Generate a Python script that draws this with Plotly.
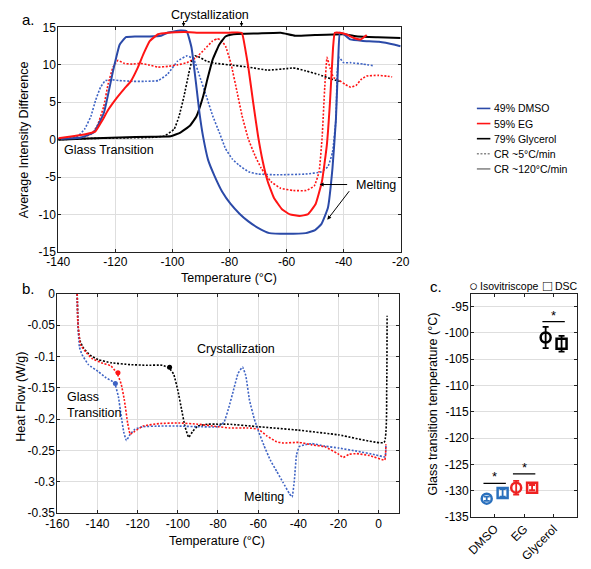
import plotly.graph_objects as go

# ---------------- Panel a: isovitriscope (Average Intensity Difference) ----------------
dmso_fast_T = [-140, -132, -127.5, -124, -120.8, -118.5, -116.3, -113, -108, -104, -101.7, -97.2, -95, -93.3,
               -91.6, -90.5, -89.3, -87.5, -85.3, -82.5, -79.6, -76.5, -73.5, -70, -66, -60, -53.3, -50, -47.8,
               -45.5, -43.9, -42.7, -41.9, -41.3, -40, -37.7, -33.2, -27.6, -22, -20]
dmso_fast_v = [0.1, 0.3, 1.0, 3.6, 9.2, 12.7, 13.7, 13.8, 13.8, 13.9, 14.3, 14.6, 14.5, 12.3,
               7.1, 3.5, 0.5, -2.7, -4.8, -7.0, -8.6, -9.9, -10.9, -11.8, -12.5, -12.6, -12.5, -12.1, -11.3,
               -9.1, -3.8, 2.7, 10.6, 14.3, 14.1, 13.4, 13.2, 13.1, 12.7, 12.5]

eg_fast_T = [-140, -134.3, -129.8, -127, -124.7, -122.5, -119.7, -116.9, -114.6, -112.3, -110.1, -107.9, -105,
             -101.6, -96, -90, -85, -80, -75.7, -74.6, -73.4, -71.7, -70, -68.3, -66.6, -64.4, -61.6, -58.8,
             -55.5, -52.6, -49.8, -47.6, -45.9, -44.8, -43.7, -43.1, -41.4, -39.2, -36.4, -34.1, -31.9]
eg_fast_v = [0.2, 0.5, 0.8, 1.1, 2.5, 4.0, 5.5, 6.8, 7.8, 9.5, 11.5, 13.2, 14.1,
             14.3, 14.4, 14.3, 14.3, 14.3, 14.3, 12.4, 9.7, 5.0, 0.5, -3.0, -5.6, -7.8, -9.3, -10.0,
             -10.2, -10.0, -8.6, -5.6, -0.8, 4.9, 12.3, 14.3, 14.3, 14.1, 13.6, 13.4, 14.0]

gly_fast_T = [-140, -129.8, -118.6, -107.3, -100.6, -97.2, -93.8, -91.6, -89.3, -87.6, -85.9, -83.6, -81.4,
              -78.6, -70, -62, -57, -50, -40, -35, -28, -20]
gly_fast_v = [0.0, 0.15, 0.3, 0.4, 0.45, 0.95, 1.9, 3.1, 5.7, 8.3, 10.7, 12.7, 13.8,
              14.1, 14.2, 14.3, 13.9, 14.0, 14.1, 13.8, 13.7, 13.6]

dmso_slow_T = [-140, -133.1, -130.8, -128.6, -126.9, -125.2, -123.5, -121.3, -118.5, -114, -109.5, -105, -101.6,
               -98.2, -94.9, -92.6, -90.4, -88.1, -85.9, -83.6, -81.4, -79, -76.7, -73.3, -70, -63.3, -53.3,
               -47.8, -45.5, -43.9, -42.7, -42.2, -41.6, -40, -37.7, -33.2, -29.8]
dmso_slow_v = [0.1, 0.5, 1.4, 3.1, 5.3, 7.0, 7.9, 8.0, 7.9, 7.8, 7.8, 7.9, 8.8,
               10.5, 11.2, 10.8, 8.4, 5.8, 3.2, 1.0, -1.2, -2.6, -3.4, -4.3, -4.6, -4.7, -4.6,
               -4.3, -3.6, -1.7, 2.7, 9.2, 11.0, 10.3, 10.3, 10.1, 9.9]

eg_slow_T = [-140, -132, -128.6, -126.4, -124.1, -122.5, -120.8, -119.1, -116.9, -114, -111.2, -108.4, -105,
             -101.6, -98.2, -94.9, -91.6, -88.7, -85.9, -84.3, -83, -81.4, -79.5, -77.3, -75.6, -73.4, -71.1,
             -68.9, -65.5, -62.1, -57.6, -53.1, -50.3, -48.6, -47.5, -46.6, -45.8, -44.7, -43.5, -41.5,
             -39.5, -37.5, -35.5, -34, -32, -28, -25, -23]
eg_slow_v = [0.1, 0.3, 0.7, 1.8, 4.4, 7.5, 9.7, 10.6, 10.2, 10.1, 10.2, 10.0, 9.7,
             9.8, 10.0, 10.3, 11.0, 12.1, 13.2, 13.5, 13.3, 12.5, 10.2, 6.3, 3.2, 0.1, -2.1,
             -3.8, -5.6, -6.5, -6.8, -6.8, -6.2, -4.3, 0.5, 7.1, 11.0, 9.5, 8.3, 7.9,
             7.4, 7.0, 7.3, 8.0, 8.5, 8.6, 8.5, 8.4]

gly_slow_T = [-140, -129.8, -115, -107.3, -102.8, -99.4, -97.7, -96, -94.3, -93.2, -92.1, -90.4, -88.1, -84.7,
              -80, -73.4, -66.6, -60, -57.7, -53.3, -48.7, -44.2, -41.4]
gly_slow_v = [0.0, 0.15, 0.25, 0.3, 0.5, 1.4, 3.1, 5.7, 8.8, 10.5, 11.2, 11.0, 10.5, 10.2,
              10.0, 9.7, 9.3, 9.5, 9.6, 9.2, 8.7, 8.1, 7.8]

a_xticks = [-140, -120, -100, -80, -60, -40, -20]
a_xtext = ["-140", "-120", "-100", "-80", "-60", "-40", "-20"]
a_yticks = [-15, -10, -5, 0, 5, 10, 15]
a_ytext = ["-15", "-10", "-5", "0", "5", "10", "15"]

legend_labels = ["49% DMSO", "59% EG", "79% Glycerol", "CR ~5°C/min", "CR ~120°C/min"]

# ---------------- Panel b: DSC heat flow ----------------
gly_dsc_T = [-150.1, -149.8, -149.3, -148.5, -146.9, -143.7, -139.7, -133.3, -123.7, -115.7, -107.7, -104.2,
             -102.1, -100, -98.1, -96.5, -94.6, -92.5, -90.1, -85.3, -80, -74.7, -60, -40, -20, 2.7, 4.0, 4.2]
gly_dsc_v = [0, -0.041, -0.066, -0.077, -0.087, -0.098, -0.105, -0.110, -0.113, -0.114, -0.114, -0.119,
             -0.128, -0.154, -0.185, -0.211, -0.229, -0.219, -0.211, -0.208, -0.208, -0.208, -0.212, -0.2175,
             -0.225, -0.237, -0.15, -0.035]

dmso_dsc_T = [-150.1, -149.8, -149, -147.7, -144.5, -139.7, -135.7, -132.5, -131.2, -129.6, -128.2, -126.9,
              -125.6, -123.7, -121.3, -117.3, -109.3, -99.7, -90.1, -80, -77, -74.5, -72.3, -70, -67.8,
              -66.2, -64.3, -61.9, -60, -57.1, -54, -50.8, -47.6, -44.4, -43.1, -42, -40.9, -39.6, -37.2,
              -33.2, -26.8, -20, -10.9, -1.3, 3.2, 3.6]
dmso_dsc_v = [0, -0.045, -0.085, -0.097, -0.113, -0.124, -0.134, -0.140, -0.145, -0.164, -0.195, -0.221,
              -0.234, -0.224, -0.216, -0.212, -0.211, -0.211, -0.212, -0.212, -0.205, -0.180, -0.154, -0.127,
              -0.117, -0.130, -0.170, -0.200, -0.218, -0.242, -0.265, -0.283, -0.301, -0.319, -0.324,
              -0.298, -0.257, -0.244, -0.241, -0.239, -0.243, -0.246, -0.251, -0.257, -0.260, -0.240]

eg_dsc_T = [-150.1, -149.8, -148.5, -146.1, -142.9, -138.1, -133.3, -130.9, -130.1, -128.2, -126.6, -125,
            -123.7, -121.3, -117.3, -109.3, -99.7, -90.1, -80, -74.1, -65.1, -60, -55.5, -50.8, -47.6, -39.6,
            -33.2, -26.8, -20.4, -17.6, -14.8, -10.9, -4.5, 3.0, 3.6]
eg_dsc_v = [0, -0.045, -0.081, -0.092, -0.103, -0.110, -0.115, -0.124, -0.128, -0.144, -0.170, -0.206,
            -0.224, -0.219, -0.211, -0.207, -0.206, -0.208, -0.212, -0.214, -0.214, -0.216, -0.227, -0.236,
            -0.238, -0.237, -0.241, -0.244, -0.255, -0.261, -0.256, -0.255, -0.258, -0.265, -0.240]

tg_dsc_T = [-131.1, -129.8, -104.1]      # DMSO, EG, Glycerol onset markers
tg_dsc_v = [-0.143, -0.126, -0.117]

b_xticks = [-160, -140, -120, -100, -80, -60, -40, -20, 0]
b_xtext = ["-160", "-140", "-120", "-100", "-80", "-60", "-40", "-20", "0"]
b_yticks = [-0.35, -0.3, -0.25, -0.2, -0.15, -0.1, -0.05, 0]
b_ytext = ["-0.35", "-0.3", "-0.25", "-0.2", "-0.15", "-0.1", "-0.05", "0"]

# ---------------- Panel c: glass transition temperatures ----------------
categories = ["DMSO", "EG", "Glycerol"]
iso_tg = [-131.5, -129.4, -100.9]
iso_err = [0.4, 1.3, 2.0]
dsc_tg = [-130.4, -129.4, -102.1]
dsc_err = [0.7, 0.5, 1.5]
sig_bar_y = [-128.6, -126.8, -97.9]
c_yticks = [-135, -130, -125, -120, -115, -110, -105, -100, -95]
c_ytext = ["-135", "-130", "-125", "-120", "-115", "-110", "-105", "-100", "-95"]

# ---------------- styling ----------------
W, H = 591, 569
FONT = "Liberation Sans, Arial, Helvetica, sans-serif"
BLUE = "#2b4aa8"
BLUE_DOT = "#3e63c4"
RED = "#ff1414"
BLACK = "#000000"
C_BLUE = "#2a70bd"
C_RED = "#ee2222"
cat_colors = [C_BLUE, C_RED, BLACK]
DOT = "2px,1.6px"


def px(xp):
    return xp / W


def py(yp):
    return 1 - yp / H


fig = go.Figure()

# panel a traces
for T, v, col, dash, w in [
    (dmso_slow_T, dmso_slow_v, BLUE_DOT, DOT, 1.6),
    (eg_slow_T, eg_slow_v, RED, DOT, 1.6),
    (gly_slow_T, gly_slow_v, BLACK, DOT, 1.6),
    (gly_fast_T, gly_fast_v, BLACK, "solid", 2),
    (dmso_fast_T, dmso_fast_v, BLUE, "solid", 2),
    (eg_fast_T, eg_fast_v, RED, "solid", 2),
]:
    fig.add_trace(go.Scatter(x=T, y=v, mode="lines", line=dict(color=col, dash=dash, width=w,
                                                                 shape="spline", smoothing=0.35),
                             showlegend=False, xaxis="x", yaxis="y", hoverinfo="skip"))

# panel b traces
for T, v, col in [(gly_dsc_T, gly_dsc_v, BLACK), (dmso_dsc_T, dmso_dsc_v, BLUE_DOT), (eg_dsc_T, eg_dsc_v, RED)]:
    fig.add_trace(go.Scatter(x=T, y=v, mode="lines", line=dict(color=col, dash=DOT, width=1.6,
                                                                 shape="spline", smoothing=0.35),
                             showlegend=False, xaxis="x2", yaxis="y2", hoverinfo="skip"))
fig.add_trace(go.Scatter(x=tg_dsc_T, y=tg_dsc_v, mode="markers",
                         marker=dict(color=[BLUE_DOT, RED, BLACK], size=5),
                         showlegend=False, xaxis="x2", yaxis="y2", hoverinfo="skip"))

# panel c traces (one per category so marker and error bar share colour)
OFF = 0.27
cat_idx = [1, 2, 3]
for i, col, m_i, e_i, m_d, e_d in zip(cat_idx, cat_colors, iso_tg, iso_err, dsc_tg, dsc_err):
    fig.add_trace(go.Scatter(
        x=[i - OFF], y=[m_i], mode="markers",
        marker=dict(symbol="circle-open", size=10, color=col, line=dict(width=2.5, color=col)),
        error_y=dict(type="data", array=[e_i], visible=True, thickness=1.8, width=3, color=col),
        showlegend=False, xaxis="x3", yaxis="y3", hoverinfo="skip"))
    fig.add_trace(go.Scatter(
        x=[i + OFF], y=[m_d], mode="markers",
        marker=dict(symbol="square-open", size=10, color=col, line=dict(width=2.5, color=col)),
        error_y=dict(type="data", array=[e_d], visible=True, thickness=1.8, width=3, color=col),
        showlegend=False, xaxis="x3", yaxis="y3", hoverinfo="skip"))

# significance bars
for i, yb in zip(cat_idx, sig_bar_y):
    fig.add_shape(type="line", xref="x3", yref="y3", x0=i - 0.38, x1=i + 0.38, y0=yb, y1=yb,
                  line=dict(color=BLACK, width=1.2))
    fig.add_annotation(x=i, y=yb, xref="x3", yref="y3", text="*", showarrow=False, yanchor="bottom",
                       yshift=-3, font=dict(size=13, color=BLACK, family=FONT))

# ---------------- axes ----------------
axis_common = dict(showline=True, linecolor="#222", linewidth=1, mirror="allticks", ticks="inside",
                   ticklen=3, tickcolor="#222", gridcolor="#dedede", gridwidth=1, zeroline=False,
                   tickfont=dict(family=FONT, size=12, color=BLACK))
xstand = dict(ticklabelstandoff=-1)
ystand = dict(ticklabelstandoff=-1)

fig.update_layout(
    width=W, height=H, margin=dict(l=0, r=0, t=0, b=0), paper_bgcolor="white", plot_bgcolor="white",
    font=dict(family=FONT, color=BLACK),
    xaxis=dict(domain=[px(48), px(403)], range=[-140, -20], anchor="y", tickvals=a_xticks, ticktext=a_xtext,
               **axis_common, **xstand),
    yaxis=dict(domain=[py(251), py(21)], range=[-15, 15], anchor="x", tickvals=a_yticks, ticktext=a_ytext,
               **axis_common, **ystand),
    xaxis2=dict(domain=[px(47), px(401)], range=[-160, 10], anchor="y2", tickvals=b_xticks, ticktext=b_xtext,
                **axis_common, **xstand),
    yaxis2=dict(domain=[py(519), py(294)], range=[-0.35, 0], anchor="x2", tickvals=b_yticks, ticktext=b_ytext,
                **axis_common, **ystand),
    xaxis3=dict(domain=[px(476), px(586)], range=[0.2, 3.8], anchor="y3", tickvals=cat_idx, ticktext=categories,
                tickangle=-45, showgrid=False, ticklabelstandoff=-1,
                **{k: v for k, v in axis_common.items() if k != "gridcolor"}),
    yaxis3=dict(domain=[py(523), py(294)], range=[-135, -92.6], anchor="x3", tickvals=c_yticks, ticktext=c_ytext,
                **axis_common, ticklabelstandoff=-1),
    showlegend=False,
)

# ---------------- annotations ----------------
def txt(x, y, s, size=12.5, xanchor="center", yanchor="middle", xref="paper", yref="paper", angle=0, align="center"):
    fig.add_annotation(x=x, y=y, xref=xref, yref=yref, text=s, showarrow=False, xanchor=xanchor,
                       yanchor=yanchor, textangle=angle, align=align,
                       font=dict(family=FONT, size=size, color=BLACK))

# panel labels
txt(px(8), py(13), "a.", size=15, xanchor="left")
txt(px(8), py(289), "b.", size=15, xanchor="left")
txt(px(431), py(287), "c.", size=15, xanchor="left")

# axis titles
txt(px(225), py(278), "Temperature (°C)")
txt(px(12), py(136), "Average Intensity Difference", angle=-90)
txt(px(213), py(547), "Temperature (°C)")
txt(px(10), py(400), "Heat Flow (W/g)", angle=-90)
txt(px(437), py(407), "Glass transition temperature (°C)", angle=-90)

# panel a annotations
txt(px(205), py(8), "Crystallization")
for xa in [-96.1, -75.8]:
    fig.add_annotation(x=xa, y=py(20), xref="x", yref="paper", ax=0, ay=-7, text="", showarrow=True,
                       arrowhead=2, arrowsize=0.7, arrowwidth=1, arrowcolor=BLACK)
txt(-138.6, -1.4, "Glass Transition", xref="x", yref="y", xanchor="left")
txt(-36.4, -6.1, "Melting", xref="x", yref="y", xanchor="left")
fig.add_annotation(x=-48.4, y=-6.0, xref="x", yref="y", ax=29, ay=0, text="", showarrow=True,
                   arrowhead=2, arrowsize=0.8, arrowwidth=1, arrowcolor=BLACK)
fig.add_annotation(x=-45.7, y=-10.7, xref="x", yref="y", ax=23, ay=-30, text="", showarrow=True,
                   arrowhead=2, arrowsize=0.8, arrowwidth=1, arrowcolor=BLACK)

# panel a legend (manual)
leg_colors = [BLUE, RED, BLACK, "#888888", "#888888"]
leg_dash = ["solid", "solid", "solid", DOT, "solid"]
for i, (lab, col, d) in enumerate(zip(legend_labels, leg_colors, leg_dash)):
    yy = 104 + 15.5 * i
    fig.add_shape(type="line", xref="paper", yref="paper", x0=px(482), x1=px(496), y0=py(yy), y1=py(yy),
                  line=dict(color=col, width=1.6, dash=d))
    txt(px(498), py(yy), lab, size=10.5, xanchor="left")

# panel b annotations
txt(-70.9, -0.0887, "Crystallization", xref="x2", yref="y2")
txt(-156.2, -0.177, "Glass<br>Transition", xref="x2", yref="y2", xanchor="left", align="left")
txt(-57, -0.3235, "Melting", xref="x2", yref="y2")

# panel c legend (manual)
txt(px(478), py(286), "<b>○</b>", size=15)
txt(px(483), py(286), "Isovitriscope", size=10.5, xanchor="left")
txt(px(555), py(286), "<b>□</b>", size=15)
txt(px(561), py(286), "DSC", size=10.5, xanchor="left")

# remove the browser's default page margin so the figure sits at the window origin
fig.write_html("out.html", config={"displayModeBar": False},
               post_script="document.body.style.margin='0';document.body.style.overflow='hidden';")
